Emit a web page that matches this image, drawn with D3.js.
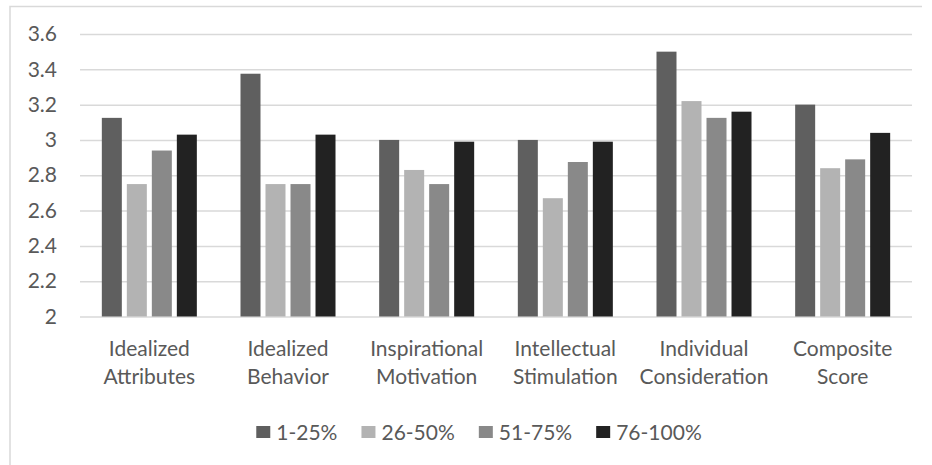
<!DOCTYPE html>
<html>
<head>
<meta charset="utf-8">
<script src="https://cdn.jsdelivr.net/npm/d3@7"></script>
<style>
  html, body { margin: 0; padding: 0; background: #ffffff; }
  svg { display: block; }
  text { font-family: Lato, "Open Sans", sans-serif; fill: #595959; }
</style>
</head>
<body>
<svg id="chart" width="932" height="465"></svg>
<script>
// Mean scores per leadership dimension, grouped by percentile band
const categories = [
  "Idealized Attributes",
  "Idealized Behavior",
  "Inspirational Motivation",
  "Intellectual Stimulation",
  "Individual Consideration",
  "Composite Score"
];
const seriesNames = ["1-25%", "26-50%", "51-75%", "76-100%"];
const band1to25   = [3.125, 3.375, 3.00, 3.00, 3.50, 3.20];
const band26to50  = [2.75,  2.75,  2.83, 2.67, 3.22, 2.84];
const band51to75  = [2.94,  2.75,  2.75, 2.875, 3.125, 2.89];
const band76to100 = [3.03,  3.03,  2.99, 2.99, 3.16, 3.04];
const yTicks = [2, 2.2, 2.4, 2.6, 2.8, 3, 3.2, 3.4, 3.6];
const seriesColors = ["#5f5f5f", "#b3b3b3", "#898989", "#222222"];

const seriesValues = [band1to25, band26to50, band51to75, band76to100];
const rows = categories.map((c, i) => ({
  category: c,
  values: seriesNames.map((s, k) => ({ series: s, value: seriesValues[k][i] }))
}));

const svg = d3.select("#chart");
const plot = { left: 80, right: 912, top: 34, bottom: 316.5 };

// Chart frame (top and left edges)
svg.append("path")
  .attr("d", "M10,473V6.5H922")
  .attr("fill", "none")
  .attr("stroke", "#d9d9d9")
  .attr("stroke-width", 1.5);

const x0 = d3.scaleBand().domain(categories).range([plot.left, plot.right]).padding(0);
const x1 = d3.scaleBand().domain(seriesNames).range([0, x0.bandwidth()])
  .paddingInner(0.2).paddingOuter(0.873);
const y = d3.scaleLinear().domain([2, 3.6]).range([plot.bottom, plot.top]);
const color = d3.scaleOrdinal().domain(seriesNames).range(seriesColors);

// Horizontal gridlines
const grid = svg.append("g")
  .attr("transform", `translate(${plot.left},0)`)
  .call(d3.axisLeft(y).tickValues(yTicks).tickSize(-(plot.right - plot.left)).tickFormat(""));
grid.select(".domain").remove();
grid.selectAll("line").attr("stroke", "#d9d9d9").attr("stroke-width", 1.5);

// Y axis labels
const yAxis = svg.append("g")
  .attr("transform", "translate(57,0)")
  .call(d3.axisLeft(y).tickValues(yTicks).tickSize(0).tickPadding(0).tickFormat(d3.format("~g")));
yAxis.select(".domain").remove();
yAxis.selectAll("text")
  .attr("font-size", 21)
  .attr("fill", "#595959")
  .style("font-family", "Lato, sans-serif");

// Bars
const groups = svg.append("g").selectAll("g")
  .data(rows)
  .join("g")
  .attr("transform", d => `translate(${x0(d.category)},0)`);

groups.selectAll("rect")
  .data(d => d.values)
  .join("rect")
  .attr("x", d => x1(d.series))
  .attr("width", x1.bandwidth())
  .attr("y", d => y(d.value))
  .attr("height", d => y(2) - y(d.value))
  .attr("fill", d => color(d.series));

// Category labels, two lines each
const catLabels = svg.append("g").selectAll("text")
  .data(categories)
  .join("text")
  .attr("x", d => x0(d) + x0.bandwidth() / 2)
  .attr("y", 356)
  .attr("text-anchor", "middle")
  .attr("font-size", 21);
catLabels.each(function (d) {
  const words = d.split(" ");
  const t = d3.select(this);
  words.forEach((w, i) => {
    t.append("tspan")
      .attr("x", x0(d) + x0.bandwidth() / 2)
      .attr("dy", i === 0 ? 0 : 28)
      .text(w);
  });
});

// Legend
const legend = svg.append("g");
const items = legend.selectAll("g")
  .data(seriesNames)
  .join("g");
items.append("rect")
  .attr("width", 14)
  .attr("height", 12)
  .attr("y", 426)
  .attr("fill", d => color(d));
items.append("text")
  .attr("x", 20)
  .attr("y", 439.5)
  .attr("font-size", 21)
  .text(d => d);
const gap = 24;
let cursor = 0;
const offsets = [];
items.each(function () {
  offsets.push(cursor);
  const w = d3.select(this).select("text").node().getComputedTextLength();
  cursor += 20 + w + gap;
});
const totalW = cursor - gap;
const legendStart = 479 - totalW / 2;
items.attr("transform", (d, i) => `translate(${legendStart + offsets[i]},0)`);
</script>
</body>
</html>
